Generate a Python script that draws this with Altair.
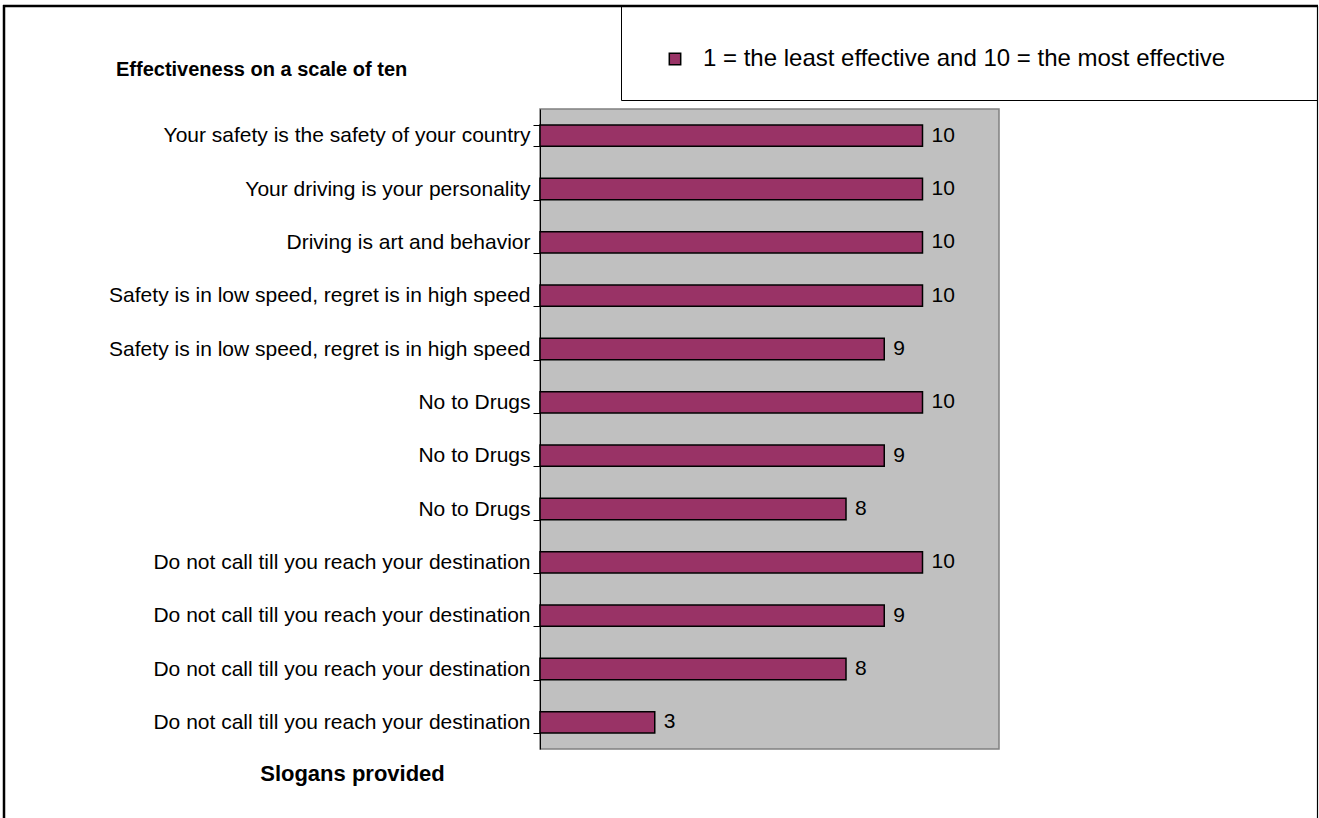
import altair as alt
import pandas as pd

slogans = [
    "Your safety is the safety of your country",
    "Your driving is your personality",
    "Driving is art and behavior",
    "Safety is in low speed, regret is in high speed",
    "Safety is in low speed, regret is in high speed",
    "No to Drugs",
    "No to Drugs",
    "No to Drugs",
    "Do not call till you reach your destination",
    "Do not call till you reach your destination",
    "Do not call till you reach your destination",
    "Do not call till you reach your destination",
]
scores = [10, 10, 10, 10, 9, 10, 9, 8, 10, 9, 8, 3]
legend_label = "1 = the least effective and 10 = the most effective"
chart_title = "Effectiveness on a scale of ten"
axis_title = "Slogans provided"

FONT = "Liberation Sans"
BAR = "#993366"

df = pd.DataFrame({
    "rank": list(range(len(slogans))),
    "slogan": slogans,
    "score": scores,
    "series": [legend_label] * len(slogans),
})

label_expr = "[" + ",".join("'" + s + "'" for s in slogans) + "][datum.value]"

# plot area placement inside the 1319x818 canvas
PL, PT, PW, PH = 540, 109, 459, 640

y_enc = alt.Y(
    "rank:O",
    scale=alt.Scale(paddingInner=0.6, paddingOuter=0.3),
    axis=alt.Axis(
        title=None,
        labelExpr=label_expr,
        tickBand="extent",
        tickSize=7,
        tickColor="black",
        domainColor="black",
        domainWidth=1,
        labelFontSize=21,
        labelColor="black",
        labelFont=FONT,
        labelPadding=3,
        labelLimit=600,
    ),
)
x_enc = alt.X(
    "score:Q",
    scale=alt.Scale(domain=[0, 12], nice=False),
    axis=alt.Axis(
        title=axis_title,
        labels=False,
        ticks=False,
        grid=False,
        domain=False,
        titleX=352 - PL,
        titleY=773 - (PT + PH),
        titleAlign="center",
        titleBaseline="middle",
        titleFontSize=22,
        titleFontWeight="bold",
        titleFont=FONT,
        titleColor="black",
    ),
)

base = alt.Chart(df)

bars = base.mark_bar(stroke="black", strokeWidth=1.5).encode(
    x=x_enc,
    y=y_enc,
    color=alt.Color(
        "series:N",
        scale=alt.Scale(range=[BAR]),
        legend=alt.Legend(
            title=None,
            orient="none",
            legendX=663 - PL,
            legendY=47 - PT,
            symbolType="square",
            symbolSize=130,
            symbolStrokeColor="black",
            symbolStrokeWidth=1.5,
            symbolFillColor=BAR,
            labelFontSize=24,
            labelFont=FONT,
            labelColor="black",
            labelOffset=16,
            labelLimit=800,
            padding=0,
        ),
    ),
)

labels = base.mark_text(align="left", baseline="middle", dx=9, fontSize=21, font=FONT, color="black").encode(
    x="score:Q",
    y=alt.Y("rank:O"),
    text="score:Q",
)

one = alt.Data(values=[{}])
# page frame and legend box
frame_top = alt.Chart(one).mark_rule(color="black", strokeWidth=2.5).encode(
    x=alt.value(3 - PL), x2=alt.value(1318 - PL), y=alt.value(6 - PT)
)
frame_left = alt.Chart(one).mark_rule(color="black", strokeWidth=2.5).encode(
    x=alt.value(4 - PL), y=alt.value(5 - PT), y2=alt.value(818 - PT)
)
frame_right = alt.Chart(one).mark_rule(color="black", strokeWidth=1.2).encode(
    x=alt.value(1317.5 - PL), y=alt.value(6 - PT), y2=alt.value(818 - PT)
)
legend_box = alt.Chart(one).mark_rect(fill="white", stroke="black", strokeWidth=1).encode(
    x=alt.value(621.5 - PL), x2=alt.value(1317.5 - PL), y=alt.value(6 - PT), y2=alt.value(100.5 - PT)
)
title_text = alt.Chart(one).mark_text(
    text=chart_title, align="left", baseline="middle", fontSize=20, fontWeight="bold", font=FONT, color="black"
).encode(x=alt.value(116 - PL), y=alt.value(70 - PT))

chart = alt.layer(legend_box, frame_top, frame_left, frame_right, title_text, bars, labels).properties(
    width=PW,
    height=PH,
    autosize=alt.AutoSizeParams(type="none"),
    padding={"left": PL, "top": PT, "right": 1319 - PL - PW, "bottom": 818 - PT - PH},
).configure(
    background="white"
).configure_view(
    fill="#c0c0c0", stroke="#808080", strokeWidth=1.5
)

chart.save("out.html", embed_options={"renderer": "svg", "actions": False})
